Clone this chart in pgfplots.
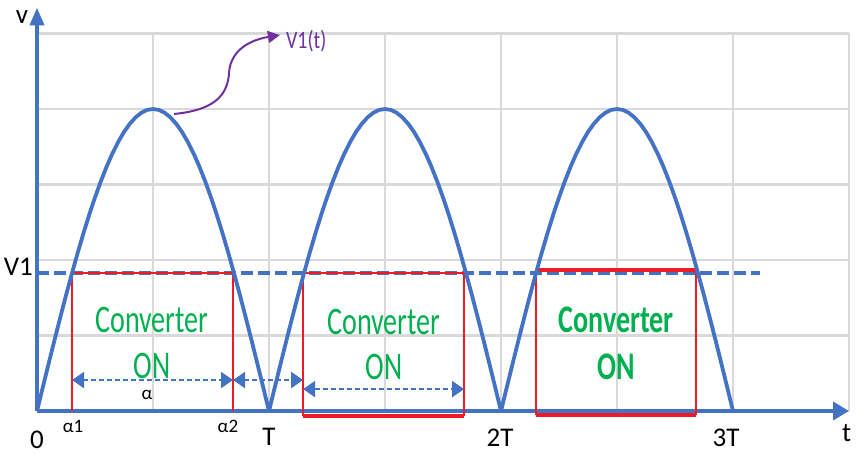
\documentclass[border=0pt]{standalone}
\usepackage{fontspec}
\setmainfont{Carlito}
\newfontfamily\condfont[FakeStretch=0.72]{Carlito}
\newfontfamily\semicond[FakeStretch=0.8]{Carlito}
\usepackage{pgfplots}
\usepackage{pgfplotstable}
\pgfplotsset{compat=1.18}
\usetikzlibrary{arrows.meta,calc}

\definecolor{axblue}{HTML}{4472C4}
\definecolor{gridgray}{HTML}{D9D9D9}
\definecolor{boxred}{RGB}{237,28,36}
\definecolor{ongreen}{RGB}{0,176,80}
\definecolor{arrpurple}{HTML}{7030A0}

% one half wave of the rectified voltage, t in units of T
\pgfplotstableread{
t     v
0     0
0.025 0.314
0.05  0.626
0.075 0.934
0.1   1.236
0.125 1.531
0.15  1.816
0.175 2.090
0.2   2.351
0.225 2.598
0.25  2.828
0.275 3.042
0.3   3.236
0.325 3.411
0.35  3.564
0.375 3.696
0.4   3.804
0.425 3.889
0.45  3.951
0.475 3.988
0.5   4.000
0.525 3.988
0.55  3.951
0.575 3.889
0.6   3.804
0.625 3.696
0.65  3.564
0.675 3.411
0.7   3.236
0.725 3.042
0.75  2.828
0.775 2.598
0.8   2.351
0.825 2.090
0.85  1.816
0.875 1.531
0.9   1.236
0.925 0.934
0.95  0.626
0.975 0.314
1     0
}\halfwave

\tikzset{
  onlabel/.style={text=ongreen, font=\condfont\fontsize{19.5}{20}\selectfont, inner sep=0pt},
  onlabelb/.style={text=ongreen, font=\condfont\bfseries\fontsize{19.5}{20}\selectfont, inner sep=0pt},
  biglbl/.style={font=\fontsize{13.5}{14}\selectfont, inner sep=0pt},
  smalllbl/.style={font=\fontsize{9.5}{10}\selectfont, inner sep=0pt},
  span/.style={axblue, line width=1.1pt, dash pattern=on 2.5pt off 1.5pt,
      {Triangle[length=6pt,width=8pt]}-{Triangle[length=6pt,width=8pt]}},
}

\begin{document}
\begin{tikzpicture}
\begin{axis}[
    x=116pt, y=37.75pt,
    xmin=0, xmax=3.5, ymin=0, ymax=5,
    axis lines=left,
    xtick={0,0.5,...,3.5}, ytick={0,1,...,5},
    xticklabels={}, yticklabels={},
    major tick length=0pt,
    grid=major, grid style={line width=1.1pt, color=gridgray},
    axis line style={line width=2pt, color=axblue},
    x axis line style={-{Triangle[length=8pt,width=9pt]}},
    y axis line style={-{Triangle[length=9pt,width=7pt]}, shorten >=-13pt},
    clip=false,
]
\coordinate (O) at (axis cs:0,0);

% threshold V1
\addplot[axblue, line width=2pt, dash pattern=on 6pt off 2.5pt] coordinates {(0,1.83)(3.115,1.83)};

% converter ON windows
\addplot[boxred, line width=0.9pt] coordinates {(0.151,0)(0.151,1.83)(0.845,1.83)(0.845,0)};
\addplot[boxred, line width=0.9pt] coordinates {(1.147,-0.066)(1.147,1.83)(1.841,1.83)(1.841,-0.066)};
\addplot[boxred, line width=1.8pt] coordinates {(1.147,-0.066)(1.841,-0.066)};
\addplot[boxred, line width=0.9pt] coordinates {(2.151,-0.05)(2.151,1.87)(2.841,1.87)(2.841,-0.05)};
\addplot[boxred, line width=2pt] coordinates {(2.151,1.87)(2.841,1.87)};
\addplot[boxred, line width=1.8pt] coordinates {(2.151,-0.05)(2.841,-0.05)};

% rectified voltage
\addplot[axblue, line width=1.9pt] table[x=t, y=v] {\halfwave};
\addplot[axblue, line width=1.9pt] table[x expr=\thisrow{t}+1, y=v] {\halfwave};
\addplot[axblue, line width=1.9pt] table[x expr=\thisrow{t}+2, y=v] {\halfwave};

% interval arrows
\draw[span] (axis cs:0.151,0.41) -- (axis cs:0.845,0.41);
\draw[span] (axis cs:0.845,0.41) -- (axis cs:1.147,0.41);
\draw[span] (axis cs:1.147,0.29) -- (axis cs:1.841,0.29);

% V1(t) pointer
\draw[arrpurple, line width=1pt, -{Triangle[length=6pt,width=6pt]}]
    (axis cs:0.591,3.934) .. controls (axis cs:0.767,3.987) and (axis cs:0.823,4.185) ..
    (axis cs:0.828,4.49) .. controls (axis cs:0.836,4.781) and (axis cs:0.918,4.914) ..
    (axis cs:1.047,4.98);
\node[anchor=west, text=arrpurple, font=\semicond\fontsize{12.5}{13}\selectfont, inner sep=0pt]
    at (axis cs:1.072,4.9) {V1(t)};

% text in the windows
\node[onlabel] at (axis cs:0.496,1.205) {Converter};
\node[onlabel] at (axis cs:0.496,0.6) {ON};
\node[onlabel] at (axis cs:1.496,1.18) {Converter};
\node[onlabel] at (axis cs:1.496,0.58) {ON};
\node[onlabelb] at (axis cs:2.496,1.205) {Converter};
\node[onlabelb] at (axis cs:2.496,0.59) {ON};

% axis annotations
\node[biglbl] at (axis cs:-0.065,5.22) {v};
\node[biglbl] at (axis cs:-0.08,1.91) {V1};
\node[biglbl] at (axis cs:0,-0.38) {0};
\node[smalllbl] at (axis cs:0.155,-0.21) {α1};
\node[smalllbl] at (axis cs:0.823,-0.21) {α2};
\node[smalllbl] at (axis cs:0.474,0.215) {α};
\node[biglbl] at (axis cs:1.0,-0.34) {T};
\node[biglbl] at (axis cs:1.996,-0.36) {2T};
\node[biglbl] at (axis cs:2.97,-0.36) {3T};
\node[biglbl] at (axis cs:3.49,-0.29) {t};
\end{axis}
\pgfresetboundingbox
\path ($(O)+(-18.5pt,-22pt)$) rectangle ($(O)+(410pt,205.5pt)$);
\end{tikzpicture}
\end{document}
